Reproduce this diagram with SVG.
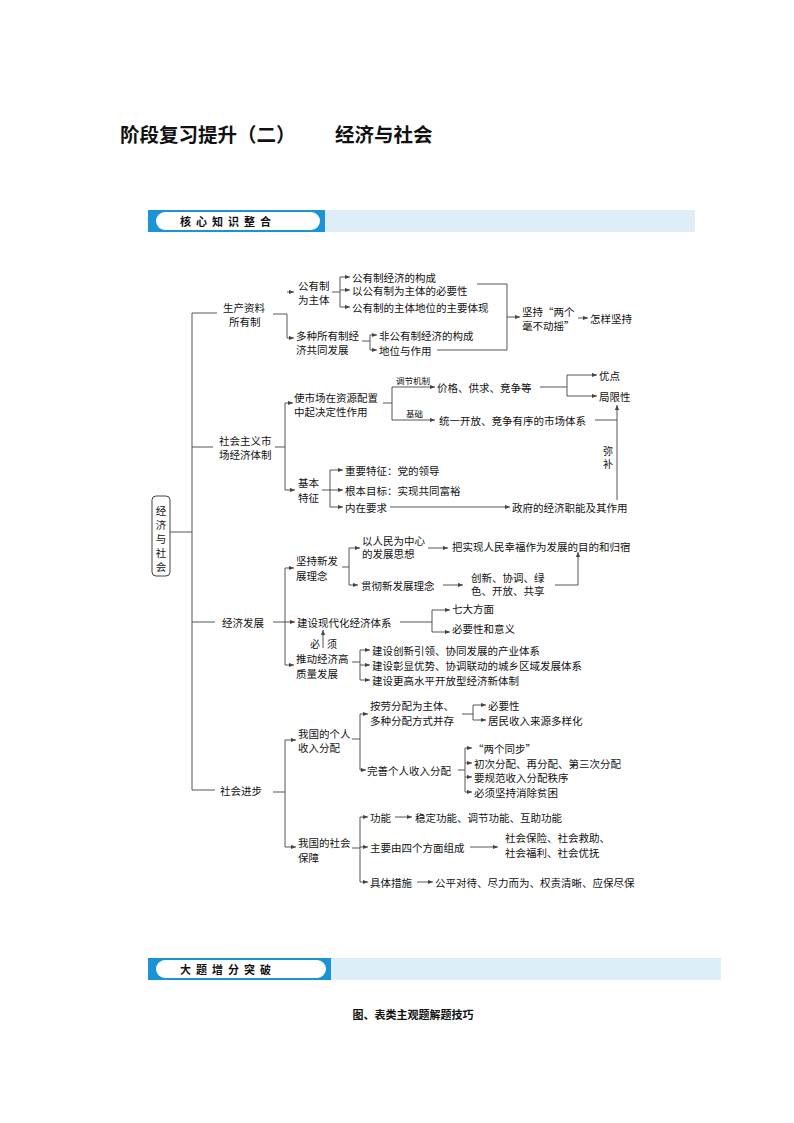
<svg xmlns="http://www.w3.org/2000/svg" width="794" height="1123" viewBox="0 0 794 1123">
<style>
text{font-family:"Noto Sans CJK SC","Noto Sans",sans-serif;font-size:10.5px;fill:#111;dominant-baseline:central}
.l{fill:none;stroke:#444;stroke-width:0.9}
.a{marker-end:url(#ar)}
.t{font-size:19.5px;font-weight:bold;dominant-baseline:auto}
.b{font-size:11px;font-weight:bold;letter-spacing:5px}
</style>
<defs><marker id="ar" viewBox="0 0 6 6" refX="6" refY="3" markerWidth="5" markerHeight="5" orient="auto" markerUnits="userSpaceOnUse"><path d="M0,0.5L6,3L0,5.5z" fill="#444"/></marker></defs>
<rect width="794" height="1123" fill="#fff"/>
<text class="t" x="120" y="142">阶段复习提升（二）</text>
<text class="t" x="335" y="142">经济与社会</text>
<g id="banner1"><rect x="148" y="210" width="547" height="22" fill="#ddeef9"/><rect x="148" y="210" width="177" height="22" fill="#1a94d4"/><rect x="156" y="212" width="164" height="18" rx="9" fill="#fff"/><text class="b" x="180" y="221">核心知识整合</text></g>
<g id="banner2"><rect x="148" y="958" width="573" height="22" fill="#ddeef9"/><rect x="148" y="958" width="183" height="22" fill="#1a94d4"/><rect x="156" y="960" width="170" height="18" rx="9" fill="#fff"/><text class="b" x="180" y="969">大题增分突破</text></g>
<text x="413" y="1014" text-anchor="middle" style="font-weight:bold;font-size:11px">图、表类主观题解题技巧</text>
<g id="root"><rect x="152" y="496" width="18" height="80" rx="4" fill="#fff" stroke="#444"/>
<text x="161" y="510" text-anchor="middle">经</text><text x="161" y="524" text-anchor="middle">济</text><text x="161" y="538" text-anchor="middle">与</text><text x="161" y="552" text-anchor="middle">社</text><text x="161" y="566" text-anchor="middle">会</text></g>
<g id="connectors">
<path class="l" d="M170,532H192M192,313V790M192,313H217M192,447H213M192,622H215M192,790H215"/>
<path class="l" d="M273,314H287V338"/><path class="l a" d="M287,292H294"/><path class="l a" d="M287,338H294"/>
<path class="l" d="M332,292H340M340,277V307"/><path class="l a" d="M340,277H350"/><path class="l a" d="M340,290H350"/><path class="l a" d="M340,307H350"/>
<path class="l" d="M362,341H370M370,335V350"/><path class="l a" d="M370,335H377"/><path class="l a" d="M370,350H377"/>
<path class="l" d="M477,284H507V350H437"/><path class="l a" d="M507,317H520"/><path class="l a" d="M578,318H588"/>
<path class="l" d="M275,447H285M285,403V490"/><path class="l a" d="M285,403H293"/><path class="l a" d="M285,490H295"/>
<path class="l" d="M383,403H392M392,387V420"/><path class="l a" d="M392,387H435"/><path class="l a" d="M392,420H435"/>
<path class="l" d="M540,387H567M567,375V396"/><path class="l a" d="M567,375H597"/><path class="l a" d="M567,396H597"/>
<path class="l" d="M595,420H617"/><path class="l a" d="M617,500V405"/>
<path class="l" d="M322,490H330M330,470V507"/><path class="l a" d="M330,470H343"/><path class="l a" d="M330,490H343"/><path class="l a" d="M330,507H343"/><path class="l a" d="M390,507H510"/>
<path class="l" d="M273,622H285M285,568V665"/><path class="l a" d="M285,568H294"/><path class="l a" d="M285,622H295"/><path class="l a" d="M285,665H294"/>
<path class="l" d="M342,567H349M349,548V585"/><path class="l a" d="M349,548H360"/><path class="l a" d="M349,585H358"/>
<path class="l a" d="M428,548H448"/><path class="l a" d="M443,585H463"/><path class="l" d="M555,585H578"/><path class="l a" d="M578,585V552"/>
<path class="l" d="M400,622H432M432,610V632"/><path class="l a" d="M432,610H450"/><path class="l a" d="M432,632H450"/>
<path class="l a" d="M323,648V630"/>
<path class="l" d="M352,662H360M360,650V680"/><path class="l a" d="M360,650H370"/><path class="l a" d="M360,665H370"/><path class="l a" d="M360,680H370"/>
<path class="l" d="M273,792H285M285,740V847"/><path class="l a" d="M285,740H296"/><path class="l a" d="M285,847H296"/>
<path class="l" d="M352,739H360M360,714V770"/><path class="l a" d="M360,714H368"/><path class="l a" d="M360,770H366"/>
<path class="l" d="M462,714H473M473,705V720"/><path class="l a" d="M473,705H486"/><path class="l a" d="M473,720H486"/>
<path class="l" d="M458,770H465M465,748V792"/><path class="l a" d="M465,748H472"/><path class="l a" d="M465,763H472"/><path class="l a" d="M465,777H472"/><path class="l a" d="M465,792H472"/>
<path class="l" d="M352,848H360M360,817V882"/><path class="l a" d="M360,817H368"/><path class="l a" d="M360,847H368"/><path class="l a" d="M360,882H368"/>
<path class="l a" d="M395,817H412"/><path class="l a" d="M470,847H498"/><path class="l a" d="M417,882H433"/>
</g>
<g id="n1"><text x="223" y="307">生产资料</text><text x="229" y="321">所有制</text></g>
<g id="n1a"><text x="298" y="285">公有制</text><text x="298" y="299">为主体</text>
<text x="352" y="277">公有制经济的构成</text><text x="352" y="290">以公有制为主体的必要性</text><text x="352" y="307">公有制的主体地位的主要体现</text></g>
<g id="n1b"><text x="296" y="335">多种所有制经</text><text x="296" y="349">济共同发展</text>
<text x="379" y="335">非公有制经济的构成</text><text x="379" y="350">地位与作用</text></g>
<g id="n1c"><text x="522" y="311">坚持“两个</text><text x="522" y="325">毫不动摇”</text><text x="590" y="318">怎样坚持</text></g>
<g id="n2"><text x="219" y="440">社会主义市</text><text x="219" y="454">场经济体制</text></g>
<g id="n2a"><text x="294" y="397">使市场在资源配置</text><text x="294" y="411">中起决定性作用</text>
<text x="396" y="380" style="font-size:8.5px">调节机制</text><text x="406" y="413" style="font-size:8.5px">基础</text>
<text x="437" y="387">价格、供求、竞争等</text><text x="439" y="420">统一开放、竞争有序的市场体系</text>
<text x="599" y="375">优点</text><text x="599" y="396">局限性</text><text x="603" y="450" style="font-size:10px">弥</text><text x="603" y="463" style="font-size:10px">补</text></g>
<g id="n2b"><text x="298" y="482">基本</text><text x="298" y="497">特征</text>
<text x="345" y="470">重要特征：党的领导</text><text x="345" y="490">根本目标：实现共同富裕</text><text x="345" y="507">内在要求</text><text x="512" y="507">政府的经济职能及其作用</text></g>
<g id="n3"><text x="222" y="622">经济发展</text></g>
<g id="n3a"><text x="296" y="560">坚持新发</text><text x="296" y="575">展理念</text>
<text x="362" y="540">以人民为中心</text><text x="362" y="553">的发展思想</text><text x="452" y="546">把实现人民幸福作为发展的目的和归宿</text>
<text x="361" y="585">贯彻新发展理念</text><text x="471" y="577">创新、协调、绿</text><text x="471" y="590">色、开放、共享</text></g>
<g id="n3b"><text x="297" y="622">建设现代化经济体系</text><text x="452" y="608">七大方面</text><text x="452" y="628">必要性和意义</text>
<text x="310" y="643" style="font-size:10px">必</text><text x="327" y="643" style="font-size:10px">须</text></g>
<g id="n3c"><text x="296" y="658">推动经济高</text><text x="296" y="673">质量发展</text>
<text x="372" y="650">建设创新引领、协同发展的产业体系</text><text x="372" y="665">建设彰显优势、协调联动的城乡区域发展体系</text><text x="372" y="680">建设更高水平开放型经济新体制</text></g>
<g id="n4"><text x="220" y="790">社会进步</text></g>
<g id="n4a"><text x="298" y="733">我国的个人</text><text x="298" y="747">收入分配</text>
<text x="370" y="705">按劳分配为主体、</text><text x="370" y="720">多种分配方式并存</text><text x="488" y="705">必要性</text><text x="488" y="720">居民收入来源多样化</text>
<text x="367" y="770">完善个人收入分配</text><text x="473" y="748">“两个同步”</text><text x="474" y="763">初次分配、再分配、第三次分配</text><text x="474" y="777">要规范收入分配秩序</text><text x="474" y="792">必须坚持消除贫困</text></g>
<g id="n4b"><text x="298" y="842">我国的社会</text><text x="298" y="857">保障</text>
<text x="370" y="817">功能</text><text x="415" y="817">稳定功能、调节功能、互助功能</text>
<text x="370" y="847">主要由四个方面组成</text><text x="505" y="837">社会保险、社会救助、</text><text x="505" y="852">社会福利、社会优抚</text>
<text x="370" y="882">具体措施</text><text x="435" y="882">公平对待、尽力而为、权责清晰、应保尽保</text></g>
</svg>
